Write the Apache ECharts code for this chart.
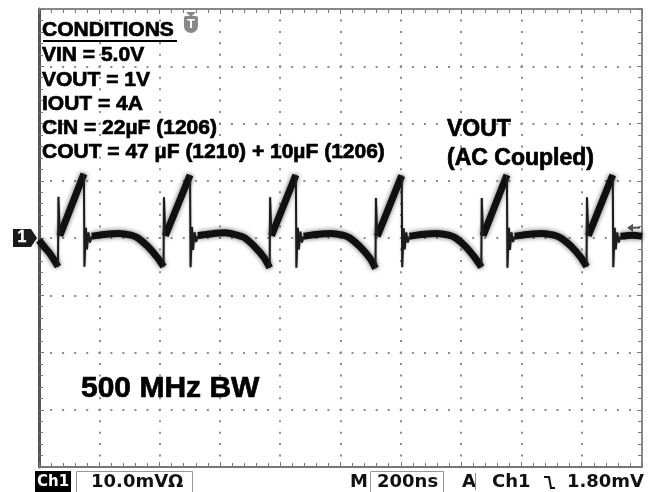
<!DOCTYPE html>
<html>
<head>
<meta charset="utf-8">
<script src="https://cdn.jsdelivr.net/npm/echarts@6/dist/echarts.min.js"></script>
<style>
  html, body { margin: 0; padding: 0; background: #fff; }
  #scope { width: 654px; height: 492px; }
</style>
</head>
<body>
<div id="scope"></div>
<script>
// scope settings: 200 ns/div, 10 mV/div
const timeRange = [0, 2000]
const voltRange = [-40, 40]
const triggerTime = 504
const triggerLevel = 1.8

// thick, noisy part of VOUT ripple [ns, mV] ('-' = gap)
const bandTrace = [
  [0, -0.4], [20, -1.7], [40, -3.0], [63, -5.0], '-',
  [69, 0.4], [149, 11.2], '-',
  [175, 0.3], [215, 0.6], [265, 0.8], [305, 0.5], [328, 0], [361, -1.5], [394, -3.5], [413, -5.0], '-',
  [419, 0.4], [501, 11.0], '-',
  [527, 0.4], [567, 0.7], [617, 0.9], [657, 0.5], [680, 0.1], [713, -1.4], [746, -3.4], [765, -5.2], '-',
  [771, 0.4], [852, 11.0], '-',
  [878, 0.3], [918, 0.6], [968, 0.8], [1008, 0.5], [1031, 0], [1064, -1.5], [1097, -3.5], [1116, -5.3], '-',
  [1122, 0.3], [1203, 10.9], '-',
  [1229, 0.3], [1269, 0.6], [1319, 0.8], [1359, 0.5], [1382, 0], [1415, -1.5], [1448, -3.6], [1467, -5.1], '-',
  [1473, 0.4], [1552, 11.0], '-',
  [1578, 0.3], [1618, 0.6], [1668, 0.8], [1708, 0.5], [1731, 0], [1764, -1.4], [1797, -3.4], [1816, -5.0], '-',
  [1822, 0.4], [1903, 11.0], '-',
  [1929, 0.3], [1969, 0.5], [2000, 0.3]
]

// fast switching edges + ringing (thin line)
const edgeTrace = [
  [63, -5.0], [64.5, 7.2], [69, 0.4], '-',
  [149, 11.2], [150.7, -5.0], [155.6, 1.8], [159, -2.0], [164, 1.0], [169, -0.8], [175, 0.3], '-',
  [413, -5.0], [414.5, 7.1], [419, 0.4], '-',
  [501, 11.0], [502.7, -5.1], [507.6, 1.9], [511, -2.1], [516, 1.0], [521, -0.7], [527, 0.4], '-',
  [765, -5.2], [766.5, 7.1], [771, 0.4], '-',
  [852, 11.0], [853.7, -5.2], [858.6, 1.8], [862, -2.0], [867, 1.1], [872, -0.8], [878, 0.3], '-',
  [1116, -5.3], [1117.5, 7.0], [1122, 0.3], '-',
  [1203, 10.9], [1204.7, -5.1], [1209.6, 1.7], [1213, -2.0], [1218, 1.0], [1223, -0.8], [1229, 0.3], '-',
  [1467, -5.1], [1468.5, 7.0], [1473, 0.4], '-',
  [1552, 11.0], [1553.7, -5.2], [1558.6, 1.8], [1562, -2.1], [1567, 1.0], [1572, -0.7], [1578, 0.3], '-',
  [1816, -5.0], [1817.5, 7.1], [1822, 0.4], '-',
  [1903, 11.0], [1904.7, -5.1], [1909.6, 1.8], [1913, -2.0], [1918, 1.0], [1923, -0.8], [1929, 0.3]
]

// text on screen
const conditionLines = [
  'VIN = 5.0V',
  'VOUT = 1V',
  'IOUT = 4A',
  'CIN = 22µF (1206)',
  'COUT = 47 µF (1210) + 10µF (1206)'
]
const traceLabel = ['VOUT', '(AC Coupled)']
const bwLabel = '500 MHz BW'
const chScale = '10.0mVΩ'
const timeScale = '200ns'
const trigText = '1.80mV'

const TXT = '"Liberation Sans", Arial, sans-serif'
const STAT = 'bold 18px "DejaVu Sans", sans-serif'

function frameAxis(pos, range, step, split, lineW, lineC, dash) {
  return {
    type: 'value', position: pos,
    min: range[0], max: range[1], interval: step,
    axisLine: { show: true, onZero: false, lineStyle: { color: lineC, width: lineW } },
    axisTick: { show: true, inside: true, length: 5, lineStyle: { color: '#777', width: 1 } },
    minorTick: { show: true, splitNumber: 5, length: 4, lineStyle: { color: '#777', width: 1 } },
    axisLabel: { show: false },
    splitLine: { show: split, lineStyle: { color: '#8a8a8a', width: 2, type: dash, dashOffset: 1 } }
  }
}

// bold screen text, slightly stroked to match the heavy scope font
function label(s, x, y, size, extra) {
  return {
    type: 'text',
    style: Object.assign({
      text: s, x: x, y: y, font: 'bold ' + size + 'px ' + TXT,
      fill: '#000', stroke: '#000', lineWidth: 0.7, textVerticalAlign: 'middle'
    }, extra || {})
  }
}

const chart = echarts.init(document.getElementById('scope'))
chart.setOption({
  animation: false,
  backgroundColor: '#fff',
  grid: { left: 39, top: 9, width: 603, height: 458 },
  xAxis: [
    frameAxis('bottom', timeRange, 200, true, 2, '#777', [2, 9.45]),
    frameAxis('top', timeRange, 200, false, 2, '#888', [2, 9.45])
  ],
  yAxis: [
    frameAxis('left', voltRange, 10, true, 3, '#555', [2, 10.06]),
    frameAxis('right', voltRange, 10, false, 2, '#888', [2, 10.06])
  ],
  series: [
    {
      name: 'band', type: 'line', data: bandTrace, showSymbol: false, symbol: 'none',
      smooth: 0.3, connectNulls: false, z: 3,
      lineStyle: { color: '#101010', width: 7, shadowBlur: 5, shadowColor: 'rgba(0,0,0,0.6)' }
    },
    {
      name: 'edges', type: 'line', data: edgeTrace, showSymbol: false, symbol: 'none',
      connectNulls: false, z: 4,
      lineStyle: { color: '#1c1c1c', width: 2, shadowBlur: 2, shadowColor: 'rgba(0,0,0,0.4)' }
    }
  ]
})

// screen annotations
const gnd = chart.convertToPixel({ yAxisIndex: 0 }, 0)
const trigY = chart.convertToPixel({ yAxisIndex: 0 }, triggerLevel)
const trigX = chart.convertToPixel({ xAxisIndex: 0 }, triggerTime)

const g = []
g.push(label('CONDITIONS', 42, 30, 21))
g.push({ type: 'line', shape: { x1: 43, y1: 41, x2: 177, y2: 41 }, style: { stroke: '#000', lineWidth: 2 } })
conditionLines.forEach((s, i) => g.push(label(s, 42, 55.5 + i * 24.3, 21)))
traceLabel.forEach((s, i) => g.push(label(s, 447, 130 + i * 29, 23)))
g.push(label(bwLabel, 81, 389, 30))

// channel 1 ground marker
g.push({ type: 'polygon', shape: { points: [[13, gnd - 9], [31, gnd - 9], [37, gnd], [31, gnd + 9], [13, gnd + 9]] }, style: { fill: '#1a1a1a' } })
g.push(label('1', 22, gnd, 16, { fill: '#fff', stroke: '#fff', lineWidth: 0.4, textAlign: 'center' }))

// trigger level arrow (right edge)
g.push({ type: 'polyline', shape: { points: [[640, trigY], [630, trigY]] }, style: { stroke: '#555', lineWidth: 2 } })
g.push({ type: 'polygon', shape: { points: [[627, trigY], [633, trigY - 4], [633, trigY + 4]] }, style: { fill: '#555' } })

// trigger position "T"
g.push({ type: 'polygon', shape: { points: [[trigX - 5, 12], [trigX + 5, 12], [trigX, 17]] }, style: { fill: '#888' } })
g.push({ type: 'rect', shape: { x: trigX - 7, y: 16, width: 14, height: 17, r: [2, 2, 7, 7] }, style: { fill: '#888' } })
g.push({ type: 'text', style: { text: 'T', x: trigX, y: 24.5, font: 'bold 13px ' + TXT, fill: '#fff', textAlign: 'center', textVerticalAlign: 'middle' } })

// status bar
g.push({ type: 'rect', shape: { x: 35, y: 471, width: 36, height: 21 }, style: { fill: '#000' } })
g.push({ type: 'text', style: { text: 'Ch1', x: 53, y: 482, font: 'bold 15px "DejaVu Sans", sans-serif', fill: '#fff', textAlign: 'center', textVerticalAlign: 'middle' } })
g.push({ type: 'rect', shape: { x: 76.5, y: 471.5, width: 116, height: 30 }, style: { fill: 'none', stroke: '#999', lineWidth: 1 } })
g.push({ type: 'text', style: { text: chScale, x: 91, y: 482, font: STAT, fill: '#111', textVerticalAlign: 'middle' } })
g.push({ type: 'text', style: { text: 'M', x: 368, y: 482, font: STAT, fill: '#111', textAlign: 'right', textVerticalAlign: 'middle' } })
g.push({ type: 'rect', shape: { x: 370.5, y: 471.5, width: 73, height: 30 }, style: { fill: 'none', stroke: '#999', lineWidth: 1 } })
g.push({ type: 'text', style: { text: timeScale, x: 377, y: 482, font: STAT, fill: '#111', textVerticalAlign: 'middle' } })
g.push({ type: 'text', style: { text: 'A', x: 462, y: 482, font: STAT, fill: '#111', textVerticalAlign: 'middle' } })
g.push({ type: 'line', shape: { x1: 475.5, y1: 473, x2: 475.5, y2: 490 }, style: { stroke: '#888', lineWidth: 1 } })
g.push({ type: 'text', style: { text: 'Ch1', x: 492, y: 482, font: STAT, fill: '#111', textVerticalAlign: 'middle' } })
g.push({ type: 'polyline', shape: { points: [[544, 477], [549, 477], [551, 488], [555, 488]] }, style: { stroke: '#111', lineWidth: 2, fill: 'none' } })
g.push({ type: 'text', style: { text: trigText, x: 644, y: 482, font: STAT, fill: '#111', textAlign: 'right', textVerticalAlign: 'middle' } })

chart.setOption({ graphic: g })
</script>
</body>
</html>
